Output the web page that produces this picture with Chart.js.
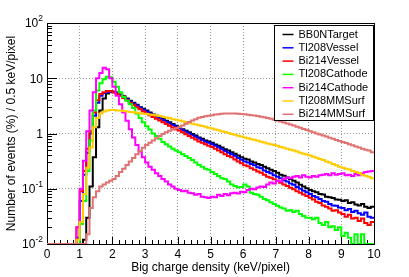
<!DOCTYPE html>
<html>
<head>
<meta charset="utf-8">
<script src="https://cdn.jsdelivr.net/npm/chart.js@4.4.1/dist/chart.umd.min.js"></script>
<style>
body { margin: 0; background: #fff; }
</style>
</head>
<body>
<canvas id="chart" width="409" height="277"></canvas>
<script>
var FONT = '"Liberation Sans", Arial, Helvetica, sans-serif';
var BIN_WIDTH = 0.1;      // 100 bins from 0 to 10 keV/pixel
var Y_MIN = 0.01, Y_MAX = 100;

var names = ["BB0NTarget", "Tl208Vessel", "Bi214Vessel", "Tl208Cathode",
             "Bi214Cathode", "Tl208MMSurf", "Bi214MMSurf"];
var colors = ["#000000", "#0000ff", "#ff0000", "#00ff00",
              "#ff00ff", "#ffcc00", "#e07272"];

// bin contents, one value per 0.1 keV/pixel bin (0 = empty bin)
var bb0nTarget = [
    0,0,0,0,0,0,0,0,0,0,
    0,0.012,0.03,0.11,0.37,1.3,2.6,4.3,5.3,5.8,
    5.7,5.5,5.1,4.7,4.3,3.9,3.6,3.3,3.0,2.8,
    2.6,2.4,2.2,2.1,1.95,1.85,1.7,1.6,1.48,1.38,
    1.3,1.2,1.12,1.05,0.98,0.92,0.85,0.8,0.75,0.72,
    0.68,0.63,0.6,0.56,0.52,0.49,0.46,0.43,0.4,0.37,
    0.35,0.34,0.31,0.3,0.28,0.27,0.25,0.235,0.22,0.21,
    0.195,0.18,0.172,0.16,0.15,0.14,0.13,0.118,0.11,0.102,
    0.095,0.09,0.086,0.08,0.079,0.072,0.07,0.068,0.064,0.063,
    0.06,0.062,0.055,0.057,0.052,0.05,0.053,0.047,0.045,0.047];

var tl208Vessel = [
    0,0,0,0,0,0,0,0,0,0.013,
    0.06,0.18,0.45,1.0,2.1,3.6,4.8,5.4,5.6,5.7,
    5.6,5.35,5.0,4.6,4.2,3.8,3.5,3.2,2.95,2.7,
    2.5,2.3,2.15,2.0,1.88,1.76,1.63,1.52,1.42,1.33,
    1.25,1.16,1.08,1.0,0.93,0.87,0.81,0.76,0.71,0.68,
    0.64,0.6,0.56,0.52,0.48,0.45,0.42,0.39,0.36,0.335,
    0.31,0.3,0.28,0.265,0.245,0.235,0.215,0.2,0.19,0.175,
    0.165,0.155,0.142,0.135,0.125,0.118,0.108,0.1,0.092,0.086,
    0.08,0.074,0.07,0.065,0.06,0.058,0.053,0.05,0.049,0.046,
    0.045,0.041,0.043,0.038,0.04,0.036,0.034,0.037,0.031,0.03];

var bi214Vessel = [
    0,0,0,0,0,0,0,0,0,0.02,
    0.09,0.21,0.53,1.1,2.4,4.0,5.2,5.6,5.9,5.8,
    5.5,5.2,4.8,4.4,4.0,3.6,3.3,3.0,2.75,2.5,
    2.3,2.15,1.98,1.85,1.72,1.6,1.48,1.38,1.28,1.2,
    1.13,1.05,0.97,0.9,0.84,0.78,0.72,0.68,0.64,0.6,
    0.57,0.53,0.49,0.46,0.42,0.39,0.37,0.34,0.31,0.29,
    0.265,0.255,0.235,0.22,0.205,0.195,0.18,0.165,0.158,0.148,
    0.14,0.128,0.12,0.112,0.104,0.098,0.09,0.085,0.079,0.074,
    0.069,0.064,0.058,0.055,0.05,0.047,0.044,0.04,0.041,0.037,
    0.035,0.031,0.034,0.029,0.03,0.026,0.029,0.024,0.022,0.025];

var tl208Cathode = [
    0,0,0,0,0,0,0,0,0,0,
    0.023,0.06,0.21,0.75,2.6,6.0,8.1,9.6,10.6,10.4,
    8.6,7.0,5.6,4.6,3.9,3.4,2.9,2.3,1.9,1.6,
    1.35,1.18,1.0,0.9,0.8,0.7,0.64,0.58,0.53,0.49,
    0.46,0.42,0.39,0.36,0.33,0.3,0.27,0.25,0.23,0.22,
    0.2,0.185,0.17,0.155,0.15,0.135,0.12,0.112,0.105,0.108,
    0.12,0.11,0.085,0.08,0.078,0.072,0.065,0.062,0.057,0.053,
    0.049,0.046,0.044,0.04,0.041,0.038,0.04,0.035,0.032,0.03,
    0.03,0.028,0.03,0.024,0.022,0.025,0.02,0.021,0.018,0.02,
    0.014,0.016,0.013,0,0.015,0,0.015,0,0,0];

var bi214Cathode = [
    0,0,0,0,0,0,0,0,0,0.02,
    0.1,0.32,1.1,2.6,5.6,10,12.5,15.5,14.5,10,
    7.0,4.8,3.4,2.4,1.7,1.2,0.85,0.62,0.47,0.37,
    0.3,0.25,0.22,0.19,0.17,0.15,0.135,0.12,0.11,0.1,
    0.095,0.09,0.092,0.085,0.083,0.078,0.08,0.072,0.07,0.068,
    0.072,0.07,0.078,0.074,0.08,0.076,0.083,0.085,0.082,0.088,
    0.086,0.095,0.1,0.098,0.105,0.11,0.108,0.12,0.13,0.125,
    0.14,0.135,0.15,0.16,0.155,0.165,0.17,0.16,0.175,0.165,
    0.16,0.17,0.165,0.175,0.18,0.185,0.175,0.19,0.18,0.185,
    0.19,0.175,0.18,0.17,0.185,0.175,0.19,0.2,0.205,0.21];

var tl208MMSurf = [
    0,0,0,0,0,0,0,0,0,0.012,
    0.025,0.08,0.24,0.56,1.3,1.9,2.3,2.5,2.6,2.65,
    2.65,2.6,2.6,2.55,2.5,2.45,2.42,2.38,2.33,2.28,
    2.25,2.2,2.17,2.12,2.07,2.0,1.95,1.9,1.82,1.77,
    1.72,1.66,1.61,1.56,1.5,1.45,1.41,1.36,1.32,1.27,
    1.23,1.18,1.14,1.1,1.06,1.02,0.98,0.95,0.91,0.88,
    0.85,0.82,0.79,0.77,0.74,0.71,0.69,0.66,0.64,0.62,
    0.6,0.57,0.55,0.53,0.51,0.49,0.47,0.45,0.43,0.415,
    0.4,0.38,0.365,0.345,0.33,0.31,0.3,0.28,0.265,0.25,
    0.24,0.23,0.222,0.21,0.2,0.192,0.18,0.172,0.163,0.155];

var bi214MMSurf = [
    0,0,0,0,0,0,0,0,0,0,
    0,0,0.015,0.045,0.07,0.09,0.11,0.12,0.13,0.14,
    0.15,0.17,0.2,0.23,0.27,0.31,0.36,0.42,0.48,0.55,
    0.62,0.68,0.75,0.82,0.9,0.98,1.05,1.12,1.18,1.24,
    1.3,1.4,1.5,1.61,1.72,1.82,1.92,1.99,2.05,2.1,
    2.15,2.2,2.24,2.27,2.29,2.3,2.3,2.29,2.27,2.25,
    2.22,2.19,2.15,2.12,2.07,2.02,1.96,1.9,1.84,1.78,
    1.72,1.65,1.58,1.51,1.45,1.39,1.33,1.27,1.21,1.16,
    1.1,1.05,1.0,0.96,0.92,0.88,0.84,0.8,0.76,0.73,
    0.7,0.67,0.64,0.61,0.58,0.56,0.53,0.51,0.49,0.46];

var series = [bb0nTarget, tl208Vessel, bi214Vessel, tl208Cathode,
              bi214Cathode, tl208MMSurf, bi214MMSurf];

var yDecades = [0.01, 0.1, 1, 10, 100];
var yDecadeExp = [-2, -1, 0, 1, 2];

// points at the low edge of each bin; empty bins sit on the frame like in ROOT
function histPoints(values)
{
    var pts = [];
    for (var i = 0; i < values.length; i++)
        pts.push({x: i * BIN_WIDTH, y: values[i] > 0 ? values[i] : Y_MIN});
    pts.push({x: values.length * BIN_WIDTH, y: pts[pts.length - 1].y});
    return pts;
}

var datasets = [];
for (var i = 0; i < names.length; i++)
{
    datasets.push({
        label: names[i],
        data: histPoints(series[i]),
        borderColor: colors[i],
        borderWidth: 2,
        pointRadius: 0,
        stepped: true,
        fill: false,
        order: names.length - i
    });
}

// ROOT-like frame, inner ticks and 10^n labels
var rootFrame = {
    id: 'rootFrame',
    beforeDatasetsDraw: function(chart)
    {
        var ctx = chart.ctx, a = chart.chartArea;
        var x = chart.scales.x, y = chart.scales.y;
        ctx.save();
        ctx.strokeStyle = '#000';
        ctx.lineWidth = 1;
        ctx.beginPath();
        for (var k = 0; k <= 50; k++)
        {
            var px = Math.round(x.getPixelForValue(k / 5)) + 0.5;
            var len = (k % 5 == 0) ? 7 : 4;
            ctx.moveTo(px, a.bottom);
            ctx.lineTo(px, a.bottom - len);
        }
        for (var e = -2; e < 2; e++)
        {
            for (var m = 1; m <= 9; m++)
            {
                var py = Math.round(y.getPixelForValue(m * Math.pow(10, e))) + 0.5;
                var l = (m == 1) ? 10 : 5;
                ctx.moveTo(a.left, py);
                ctx.lineTo(a.left + l, py);
            }
        }
        ctx.stroke();
        ctx.strokeRect(Math.round(a.left) + 0.5, Math.round(a.top) + 0.5,
                       Math.round(a.right - a.left), Math.round(a.bottom - a.top));

        ctx.fillStyle = '#000';
        ctx.textBaseline = 'middle';
        ctx.textAlign = 'right';
        var right = a.left - 4;
        for (var j = 0; j < yDecades.length; j++)
        {
            var ty = y.getPixelForValue(yDecades[j]);
            var ex = yDecadeExp[j];
            if (ex == 0 || ex == 1)
            {
                ctx.font = '12px ' + FONT;
                ctx.fillText(ex == 0 ? '1' : '10', right, ty + 1);
            }
            else
            {
                var sup = String(ex);
                ctx.font = '8.5px ' + FONT;
                var w = ctx.measureText(sup).width;
                ctx.fillText(sup, right, ty - 4);
                ctx.font = '12px ' + FONT;
                ctx.fillText('10', right - w, ty + 1);
            }
        }
        ctx.restore();
    },
    afterDatasetsDraw: function(chart)
    {
        var ctx = chart.ctx, a = chart.chartArea;
        var bx = Math.round(a.right - 100) + 0.5, by = Math.round(a.top + 2) + 0.5;
        var bw = 99, bh = 95;
        ctx.save();
        ctx.fillStyle = '#fff';
        ctx.fillRect(bx, by, bw, bh);
        ctx.strokeStyle = '#000';
        ctx.lineWidth = 1;
        ctx.strokeRect(bx, by, bw, bh);
        ctx.font = '11px ' + FONT;
        ctx.textBaseline = 'middle';
        ctx.textAlign = 'left';
        for (var i = 0; i < names.length; i++)
        {
            var ey = by + 9 + i * 13.3;
            ctx.strokeStyle = colors[i];
            ctx.lineWidth = 1.5;
            ctx.beginPath();
            ctx.moveTo(bx + 8, ey);
            ctx.lineTo(bx + 19, ey);
            ctx.stroke();
            ctx.fillStyle = '#000';
            ctx.fillText(names[i], bx + 24, ey);
        }
        ctx.restore();
    }
};

var ctx = document.getElementById('chart').getContext('2d');
var chart = new Chart(ctx, {
    type: 'line',
    data: {datasets: datasets},
    options: {
        responsive: false,
        animation: false,
        devicePixelRatio: 1,
        layout: {padding: {top: 23, right: 35, left: 0, bottom: 0}},
        plugins: {legend: {display: false}, tooltip: {enabled: false}},
        scales: {
            x: {
                type: 'linear', min: 0, max: 10,
                ticks: {stepSize: 1, autoSkip: false, maxRotation: 0, color: '#000',
                        font: {family: FONT, size: 12}, padding: 3},
                grid: {
                    color: function(c) { return (c.tick && c.tick.value > 0 && c.tick.value < 10) ? '#999' : 'rgba(0,0,0,0)'; },
                    drawTicks: false, lineWidth: 1
                },
                border: {display: false, dash: [1, 2]},
                title: {display: true, text: 'Big charge density (keV/pixel)', color: '#000',
                        font: {family: FONT, size: 12}, padding: {top: 0, bottom: 2}},
                afterFit: function(s) { s.height = 33; s.paddingLeft = 0; s.paddingRight = 0; }
            },
            y: {
                type: 'logarithmic', min: Y_MIN, max: Y_MAX,
                afterBuildTicks: function(s) { s.ticks = yDecades.map(function(v) { return {value: v}; }); },
                ticks: {display: false},
                grid: {
                    color: function(c) { return (c.tick && c.tick.value > Y_MIN && c.tick.value < Y_MAX) ? '#999' : 'rgba(0,0,0,0)'; },
                    drawTicks: false, lineWidth: 1
                },
                border: {display: false, dash: [1, 2]},
                title: {display: true, text: 'Number of events (%) / 0.5 keV/pixel', color: '#000',
                        font: {family: FONT, size: 12}, padding: {top: 4, bottom: 0}},
                afterFit: function(s) { s.width = 47; s.paddingTop = 0; s.paddingBottom = 0; }
            }
        }
    },
    plugins: [rootFrame]
});
</script>
</body>
</html>
